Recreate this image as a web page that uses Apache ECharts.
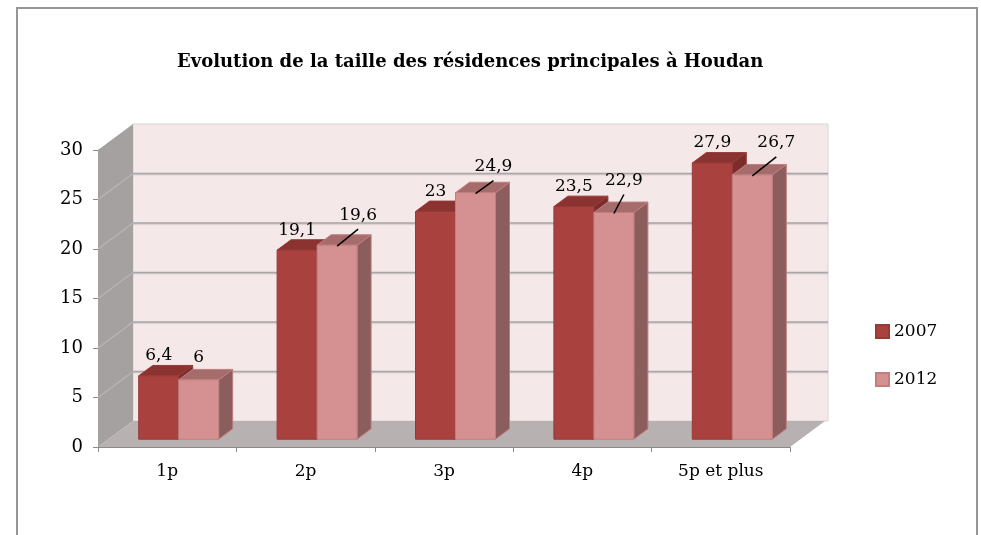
<!DOCTYPE html>
<html>
<head>
<meta charset="utf-8">
<script src="https://cdn.jsdelivr.net/npm/echarts@6/dist/echarts.min.js"></script>
<style>
  html, body { margin: 0; padding: 0; background: #ffffff; }
  #chart { width: 981px; height: 535px; }
</style>
</head>
<body>
<div id="chart"></div>
<script>
// Household size breakdown of main residences, Houdan
const categories = ['1p', '2p', '3p', '4p', '5p et plus'];
const values2007 = [6.4, 19.1, 23, 23.5, 27.9];
const values2012 = [6, 19.6, 24.9, 22.9, 26.7];
const yTicks = [0, 5, 10, 15, 20, 25, 30];
const seriesNames = ['2007', '2012'];
const titleText = 'Evolution de la taille des résidences principales à Houdan';

// Label placement for the 2012 series (pixel shift from the bar's top-front centre)
const labelShift2012 = [[0, -22], [21, -30], [18, -26], [10, -32], [24, -32]];

// Oblique projection used for the 3D look
const DEPTH_X = 35, DEPTH_Y = -26;
const BAR_FRONT = 0.3, BAR_BACK = 0.7;
const BAR_FRAC = 0.289;

const FONT = '"DejaVu Serif", "Liberation Serif", serif';
const palette = [
  { front: '#a9423f', top: '#8a3331', side: '#7c2d2b', stroke: '#963a38' },
  { front: '#d59191', top: '#a66c6b', side: '#8b5d5c', stroke: '#c07e7e' }
];

const fmt = v => String(v).replace('.', ',');

function renderWalls(params, api) {
  const cs = params.coordSys;
  const x0 = cs.x, x1 = cs.x + cs.width;
  const yOf = v => api.coord([0, v])[1];
  const yb = yOf(yTicks[0]);
  const yt = yOf(yTicks[yTicks.length - 1]);
  const children = [];
  // back wall
  children.push({ type: 'polygon', shape: { points: [
    [x0 + DEPTH_X, yt + DEPTH_Y], [x1 + DEPTH_X + 3, yt + DEPTH_Y],
    [x1 + DEPTH_X + 3, yb + DEPTH_Y], [x0 + DEPTH_X, yb + DEPTH_Y]] },
    style: { fill: '#f5e8e8', stroke: '#ddd3d3', lineWidth: 1 } });
  // side wall
  children.push({ type: 'polygon', shape: { points: [
    [x0, yt], [x0 + DEPTH_X, yt + DEPTH_Y], [x0 + DEPTH_X, yb + DEPTH_Y], [x0, yb]] },
    style: { fill: '#a6a1a1' } });
  // gridlines on both walls
  yTicks.slice(1, -1).forEach(v => {
    const y = yOf(v);
    children.push({ type: 'line', shape: { x1: x0, y1: y, x2: x0 + DEPTH_X, y2: y + DEPTH_Y },
      style: { stroke: '#bab5b5', lineWidth: 1.2 } });
    children.push({ type: 'line', shape: { x1: x0 + DEPTH_X, y1: y + DEPTH_Y, x2: x1 + DEPTH_X + 3, y2: y + DEPTH_Y },
      style: { stroke: '#a8a6a6', lineWidth: 1.6, shadowBlur: 1, shadowColor: 'rgba(0,0,0,0.15)', shadowOffsetY: 1 } });
  });
  // floor
  children.push({ type: 'polygon', shape: { points: [
    [x0, yb], [x1, yb], [x1 + DEPTH_X, yb + DEPTH_Y], [x0 + DEPTH_X, yb + DEPTH_Y]] },
    style: { fill: '#b7b1b1' } });
  return { type: 'group', children };
}

function barRenderer(si) {
  const c = palette[si];
  return function (params, api) {
    const i = api.value(0), v = api.value(1);
    const top = api.coord([i, v]);
    const base = api.coord([i, 0]);
    const band = api.size([1, 0])[0];
    const w = band * BAR_FRAC;
    const fx = DEPTH_X * BAR_FRONT, fy = DEPTH_Y * BAR_FRONT;
    const bx = DEPTH_X * (BAR_BACK - BAR_FRONT), by = DEPTH_Y * (BAR_BACK - BAR_FRONT);
    const xl = top[0] + fx + (si === 0 ? -w : 0) + 1;
    const xr = xl + w;
    const yt = top[1] + fy, yb = base[1] + fy;
    const cx = (xl + xr) / 2;
    const children = [
      { type: 'polygon', shape: { points: [[xr, yt], [xr + bx, yt + by], [xr + bx, yb + by], [xr, yb]] },
        style: { fill: c.side, stroke: c.stroke, lineWidth: 1 } },
      { type: 'polygon', shape: { points: [[xl, yt], [xr, yt], [xr + bx, yt + by], [xl + bx, yt + by]] },
        style: { fill: c.top, stroke: c.stroke, lineWidth: 1 } },
      { type: 'rect', shape: { x: xl, y: yt, width: w, height: yb - yt },
        style: { fill: c.front, stroke: c.stroke, lineWidth: 1 } }
    ];
    let lx = cx, ly = yt - 20;
    if (si === 1) {
      const s = labelShift2012[params.dataIndex];
      lx = cx + s[0]; ly = yt + s[1];
      if (s[0] !== 0) {
        children.push({ type: 'line', shape: { x1: cx, y1: yt + 1, x2: lx, y2: ly + 14 },
          style: { stroke: '#000', lineWidth: 1.5 } });
      }
    }
    children.push({ type: 'text', style: { text: fmt(v), x: lx, y: ly, align: 'center', verticalAlign: 'middle',
      font: '17px ' + FONT, fill: '#000' } });
    return { type: 'group', children };
  };
}

const chart = echarts.init(document.getElementById('chart'), null, { renderer: 'canvas' });
chart.setOption({
  animation: false,
  backgroundColor: '#ffffff',
  title: {
    text: titleText,
    left: 172, top: 48,
    textStyle: { fontFamily: FONT, fontWeight: 'bold', fontSize: 18, color: '#000' }
  },
  legend: {
    data: seriesNames,
    orient: 'vertical',
    left: 870, top: 318,
    itemWidth: 13, itemHeight: 13, itemGap: 31,
    icon: 'rect',
    textStyle: { fontFamily: FONT, fontSize: 17, color: '#000' }
  },
  grid: { left: 98, top: 150, width: 692, height: 297, containLabel: false },
  xAxis: {
    type: 'category',
    data: categories,
    axisLine: { lineStyle: { color: '#8a8a8a', width: 1 } },
    axisTick: { show: true, interval: 0, length: 5, lineStyle: { color: '#8a8a8a' } },
    axisLabel: { margin: 16, fontFamily: FONT, fontSize: 17, color: '#000', interval: 0 },
    splitLine: { show: false }
  },
  yAxis: {
    type: 'value',
    min: yTicks[0], max: yTicks[yTicks.length - 1], interval: yTicks[1] - yTicks[0],
    axisLine: { show: true, lineStyle: { color: '#8a8a8a', width: 1 } },
    axisTick: { show: true, length: 5, lineStyle: { color: '#8a8a8a' } },
    axisLabel: { margin: 15, fontFamily: FONT, fontSize: 18, color: '#000' },
    splitLine: { show: false }
  },
  graphic: [
    { type: 'polyline', silent: true, z: 100,
      shape: { points: [[17, 535], [17, 8], [977, 8], [977, 535]] },
      style: { stroke: '#969696', lineWidth: 2, fill: null } }
  ],
  series: [
    { type: 'custom', name: '_walls', silent: true, z: 1,
      renderItem: renderWalls, data: [[0, 0]] },
    { type: 'custom', name: seriesNames[0], z: 2,
      itemStyle: { color: palette[0].front, borderColor: palette[0].stroke, borderWidth: 1 },
      renderItem: barRenderer(0),
      data: values2007.map((v, i) => [i, v]) },
    { type: 'custom', name: seriesNames[1], z: 3,
      itemStyle: { color: palette[1].front, borderColor: palette[1].stroke, borderWidth: 1 },
      renderItem: barRenderer(1),
      data: values2012.map((v, i) => [i, v]) }
  ]
});
</script>
</body>
</html>
